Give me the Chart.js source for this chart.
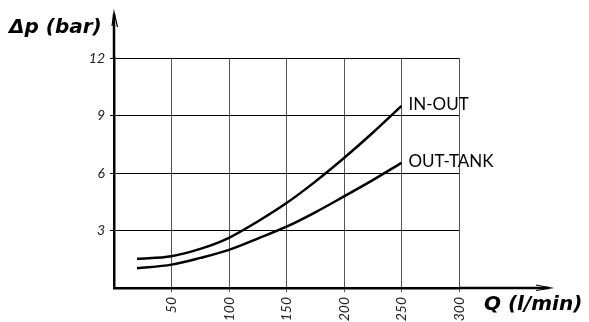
<!DOCTYPE html>
<html>
<head>
<meta charset="utf-8">
<script src="https://cdn.jsdelivr.net/npm/chart.js@4.4.0/dist/chart.umd.min.js"></script>
<style>
  body { margin: 0; background: #fff; }
  #wrap { width: 589px; height: 322px; }
</style>
</head>
<body>
<div id="wrap"><canvas id="myChart" width="589" height="322"></canvas></div>
<script>
// flow (l/min) and pressure drop (bar)
const flow = [20, 50, 75, 100, 125, 150, 175, 200, 225, 250];
const inOut = [1.52, 1.66, 2.04, 2.62, 3.47, 4.43, 5.55, 6.78, 8.1, 9.5];
const outTank = [1.03, 1.22, 1.57, 1.99, 2.58, 3.2, 3.95, 4.78, 5.63, 6.53];
const seriesNames = ['IN-OUT', 'OUT-TANK'];
const xTicks = [50, 100, 150, 200, 250, 300];
const yTicks = [3, 6, 9, 12];

const toPoints = (vals) => flow.map((q, i) => ({ x: q, y: vals[i] }));

// arrows, axis titles and the curve labels
const extras = {
    id: 'extras',
    afterDraw(chart) {
        const ctx = chart.ctx;
        const area = chart.chartArea;
        const x0 = area.left, y0 = area.bottom;
        ctx.save();
        ctx.strokeStyle = '#000';
        ctx.lineWidth = 2.5;
        ctx.beginPath();
        ctx.moveTo(x0, area.top);
        ctx.lineTo(x0, 14);
        ctx.moveTo(area.right, y0);
        ctx.lineTo(549, y0);
        ctx.stroke();
        ctx.lineWidth = 1.2;
        ctx.beginPath();
        ctx.moveTo(x0 - 2, 26);
        ctx.lineTo(x0, 12);
        ctx.lineTo(x0 + 3.5, 27);
        ctx.moveTo(536, y0 - 3);
        ctx.lineTo(551, y0);
        ctx.lineTo(536, y0 + 2.5);
        ctx.stroke();

        ctx.fillStyle = '#000';
        ctx.font = 'oblique bold 20px "DejaVu Sans"';
        ctx.textBaseline = 'alphabetic';
        ctx.textAlign = 'left';
        ctx.fillText('\u0394p (bar)', 9, 33);
        ctx.fillText('Q (l/min)', 484, 310);

        ctx.font = '17px Lato';
        ctx.textBaseline = 'middle';
        chart.data.datasets.forEach((ds, i) => {
            const last = ds.data[ds.data.length - 1];
            const px = chart.scales.x.getPixelForValue(last.x);
            const py = chart.scales.y.getPixelForValue(last.y);
            ctx.fillText(seriesNames[i], px + 7, py - 1);
        });
        ctx.restore();
    }
};

const lineStyle = {
    borderColor: '#000',
    borderWidth: 2.5,
    pointRadius: 0,
    fill: false,
    cubicInterpolationMode: 'monotone'
};

new Chart(document.getElementById('myChart').getContext('2d'), {
    type: 'line',
    data: {
        datasets: [
            { label: seriesNames[0], data: toPoints(inOut), ...lineStyle },
            { label: seriesNames[1], data: toPoints(outTank), ...lineStyle }
        ]
    },
    options: {
        responsive: false,
        animation: false,
        devicePixelRatio: 1,
        layout: { padding: { top: 58, right: 130, left: 0, bottom: 0 } },
        plugins: { legend: { display: false }, tooltip: { enabled: false } },
        scales: {
            x: {
                type: 'linear',
                min: 0,
                max: 300,
                afterFit: (s) => { s.height = 34; },
                afterBuildTicks: (s) => { s.ticks = xTicks.map(v => ({ value: v })); },
                grid: { color: '#555', lineWidth: 1, tickLength: 4 },
                border: { color: '#000', width: 2.5 },
                ticks: {
                    autoSkip: false,
                    minRotation: 90,
                    maxRotation: 90,
                    padding: 5,
                    color: '#222',
                    font: { family: 'Lato', size: 14, style: 'italic' }
                }
            },
            y: {
                min: 0,
                max: 12,
                afterFit: (s) => { s.width = 114; },
                afterBuildTicks: (s) => { s.ticks = yTicks.map(v => ({ value: v })); },
                grid: { color: '#000', lineWidth: 1, tickLength: 4 },
                border: { color: '#000', width: 2.5 },
                ticks: {
                    padding: 5,
                    color: '#222',
                    font: { family: 'Lato', size: 14, style: 'italic' }
                }
            }
        }
    },
    plugins: [extras]
});
</script>
</body>
</html>
